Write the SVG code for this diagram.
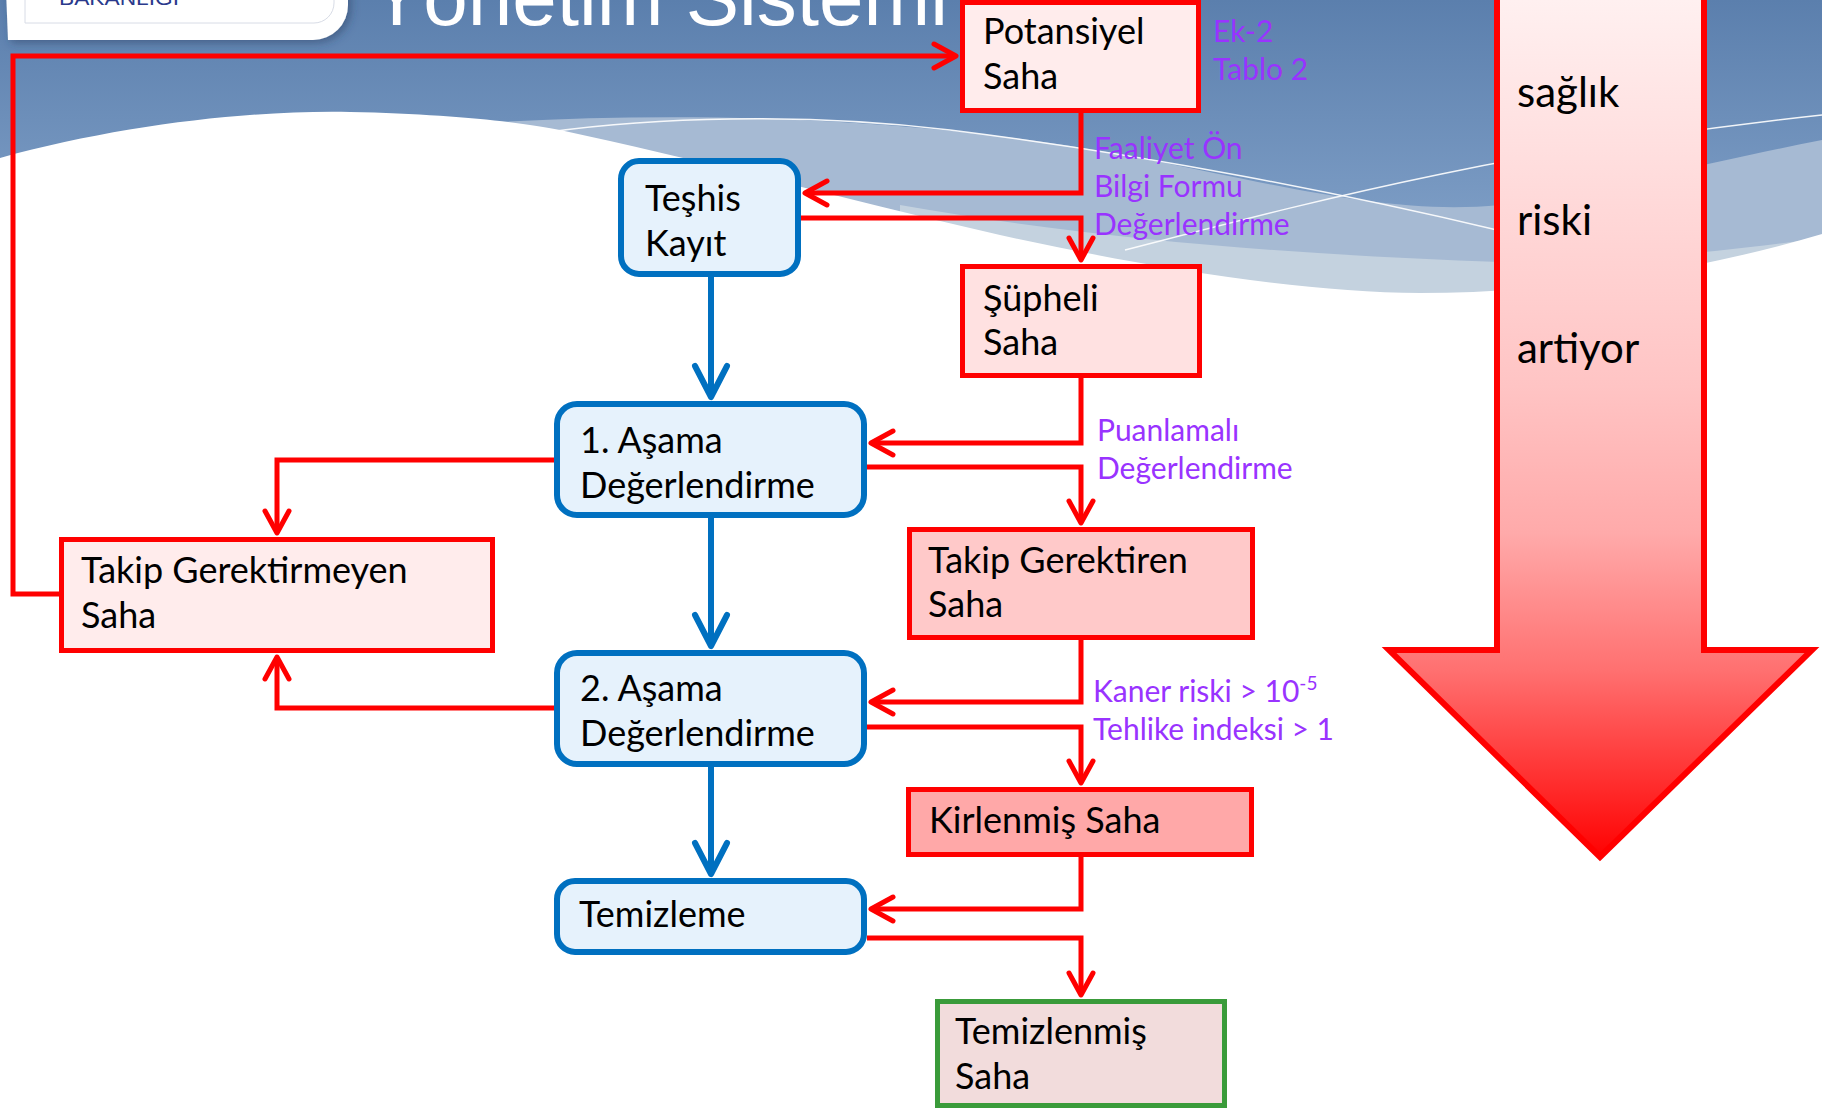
<svg xmlns="http://www.w3.org/2000/svg" width="1822" height="1110" viewBox="0 0 1822 1110">
<style>
.bx{font-family:Lato,"Liberation Sans",sans-serif;font-size:36px;fill:#000}
.lbl{font-family:Lato,"Liberation Sans",sans-serif;font-size:30px;fill:#9933FF}
.ar{font-family:Lato,"Liberation Sans",sans-serif;font-size:42px;fill:#000}
.rn{stroke:#FF0000;stroke-width:5;stroke-linejoin:miter}
.bn{fill:#E6F2FC;stroke:#0070C0;stroke-width:6}
.rc{fill:none;stroke:#FF0000;stroke-width:5;stroke-linejoin:miter;marker-end:url(#ah)}
.bc{fill:none;stroke:#0070C0;stroke-width:6;marker-end:url(#bh)}
.wl{fill:none;stroke:#FFFFFF;stroke-width:1.5;opacity:0.9}
</style>
<defs>
<linearGradient id="bg" gradientUnits="userSpaceOnUse" x1="0" y1="0" x2="0" y2="300">
<stop offset="0" stop-color="#5B7FAD"/>
<stop offset="1" stop-color="#88A7CD"/>
</linearGradient>
<linearGradient id="ag" gradientUnits="userSpaceOnUse" x1="0" y1="0" x2="0" y2="860">
<stop offset="0" stop-color="#FFF0F0"/>
<stop offset="0.45" stop-color="#FFC4C4"/>
<stop offset="0.62" stop-color="#FFAAAA"/>
<stop offset="0.78" stop-color="#FF7070"/>
<stop offset="1" stop-color="#FF0000"/>
</linearGradient>
<filter id="sh" x="-10%" y="-50%" width="130%" height="200%">
<feDropShadow dx="3" dy="3" stdDeviation="4" flood-color="#2A3E60" flood-opacity="0.5"/>
</filter>
<marker id="ah" markerUnits="userSpaceOnUse" orient="auto" overflow="visible" markerWidth="1" markerHeight="1" refX="0" refY="0">
<path d="M-22,-12 L0,0 L-22,12" fill="none" stroke="#FF0000" stroke-width="5" stroke-linecap="round" stroke-linejoin="round"/>
</marker>
<marker id="bh" markerUnits="userSpaceOnUse" orient="auto" overflow="visible" markerWidth="1" markerHeight="1" refX="0" refY="0">
<path d="M-31,-16 L0,0 L-31,16" fill="none" stroke="#0070C0" stroke-width="6" stroke-linecap="round" stroke-linejoin="round"/>
</marker>
</defs>

<g id="background">
<rect width="1822" height="1110" fill="#FFFFFF"/>
<rect width="1822" height="320" fill="url(#bg)"/>
<path d="M470,124 C700,108 950,120 1150,160 C1300,190 1400,215 1500,205 C1600,190 1720,160 1822,140 L1822,320 L470,320 Z" fill="#A6BAD3"/>
<path d="M900,205 C1100,240 1300,255 1500,262 C1600,262 1700,255 1822,238 L1822,320 L900,320 Z" fill="#C4D2DF"/>
<path d="M0,158 C120,125 250,110 350,112 C450,114 520,122 560,130 C700,160 850,200 1000,235 C1150,268 1300,292 1420,293 C1560,293 1700,270 1822,234 L1822,1110 L0,1110 Z" fill="#FFFFFF"/>
<path class="wl" d="M549,132 C650,118 800,112 950,130 C1150,155 1350,195 1497,230"/>
<path class="wl" d="M1125,250 C1300,205 1500,150 1822,115"/>
<path d="M6,-10 H348 V5 A35,35 0 0 1 313,40 H8 Z" fill="#FFFFFF" filter="url(#sh)"/>
<path d="M25,-20 H334 V3 A20,20 0 0 1 314,23 H25 Z" fill="none" stroke="#D8DCE6" stroke-width="1"/>
<text x="59" y="5" font-family="'Liberation Sans',sans-serif" font-size="20" fill="#2B3A8C" textLength="120" lengthAdjust="spacingAndGlyphs">BAKANLIĞI</text>
<text x="370" y="25" font-family="'Liberation Sans',sans-serif" font-size="80" fill="#FFFFFF">Yönetim Sistemi</text>
</g>

<g id="risk-arrow">
<path d="M1497,-5 H1704 V650 H1812 L1600,857 L1389,650 H1497 Z" fill="url(#ag)" stroke="#FF0000" stroke-width="6"/>
<text class="ar" x="1517" y="107">sağlık</text>
<text class="ar" x="1517" y="235">riski</text>
<text class="ar" x="1517" y="363">artiyor</text>
</g>

<g id="connectors">
<path class="rc" d="M61,594 H13 V56 H956"/>
<path class="rc" d="M1081,113 V193 H805"/>
<path class="rc" d="M801,218 H1081 V260"/>
<path class="rc" d="M1081,378 V443 H871"/>
<path class="rc" d="M867,467 H1081 V523"/>
<path class="rc" d="M554,460 H277 V533"/>
<path class="rc" d="M554,708 H277 V657"/>
<path class="rc" d="M1081,640 V702 H871"/>
<path class="rc" d="M867,727 H1081 V783"/>
<path class="rc" d="M1081,857 V909 H871"/>
<path class="rc" d="M867,938 H1081 V995"/>
<path class="bc" d="M711,277 V397"/>
<path class="bc" d="M711,518 V646"/>
<path class="bc" d="M711,767 V874"/>
</g>

<g id="potansiyel-saha">
<rect class="rn" x="962.5" y="2.5" width="236" height="108" fill="#FFECEC"/>
<text class="bx" x="983" y="44">Potansiyel</text>
<text class="bx" x="983" y="89">Saha</text>
</g>
<g id="ek2-label">
<text class="lbl" x="1213" y="42">Ek-2</text>
<text class="lbl" x="1213" y="80">Tablo 2</text>
</g>
<g id="faaliyet-label">
<text class="lbl" x="1094" y="159">Faaliyet Ön</text>
<text class="lbl" x="1094" y="197">Bilgi Formu</text>
<text class="lbl" x="1094" y="235">Değerlendirme</text>
</g>
<g id="teshis-kayit">
<rect class="bn" x="621" y="161" width="177" height="113" rx="18"/>
<text class="bx" x="645" y="211">Teşhis</text>
<text class="bx" x="645" y="256">Kayıt</text>
</g>
<g id="supheli-saha">
<rect class="rn" x="962.5" y="266.5" width="237" height="109" fill="#FFE1E1"/>
<text class="bx" x="983" y="311">Şüpheli</text>
<text class="bx" x="983" y="355">Saha</text>
</g>
<g id="puanlamali-label">
<text class="lbl" x="1097" y="441">Puanlamalı</text>
<text class="lbl" x="1097" y="479">Değerlendirme</text>
</g>
<g id="asama-1">
<rect class="bn" x="557" y="404" width="307" height="111" rx="20"/>
<text class="bx" x="580" y="453">1. Aşama</text>
<text class="bx" x="580" y="498">Değerlendirme</text>
</g>
<g id="takip-gerektirmeyen">
<rect class="rn" x="61.5" y="539.5" width="431" height="111" fill="#FFECEC"/>
<text class="bx" x="81" y="583">Takip Gerektirmeyen</text>
<text class="bx" x="81" y="628">Saha</text>
</g>
<g id="takip-gerektiren">
<rect class="rn" x="909.5" y="529.5" width="343" height="108" fill="#FFC9C9"/>
<text class="bx" x="928" y="573">Takip Gerektiren</text>
<text class="bx" x="928" y="617">Saha</text>
</g>
<g id="kaner-label">
<text class="lbl" x="1093" y="702">Kaner riski &gt; 10<tspan font-size="19" dy="-12">-5</tspan></text>
<text class="lbl" x="1093" y="740">Tehlike indeksi &gt; 1</text>
</g>
<g id="asama-2">
<rect class="bn" x="557" y="653" width="307" height="111" rx="20"/>
<text class="bx" x="580" y="701">2. Aşama</text>
<text class="bx" x="580" y="746">Değerlendirme</text>
</g>
<g id="kirlenmis-saha">
<rect class="rn" x="908.5" y="789.5" width="343" height="65" fill="#FFA8A8"/>
<text class="bx" x="929" y="833">Kirlenmiş Saha</text>
</g>
<g id="temizleme">
<rect class="bn" x="557" y="881" width="307" height="71" rx="18"/>
<text class="bx" x="579" y="927">Temizleme</text>
</g>
<g id="temizlenmis-saha">
<rect x="937.5" y="1001.5" width="287" height="104" fill="#F2DCDC" stroke="#3A9B3A" stroke-width="5"/>
<text class="bx" x="955" y="1044">Temizlenmiş</text>
<text class="bx" x="955" y="1089">Saha</text>
</g>
</svg>
